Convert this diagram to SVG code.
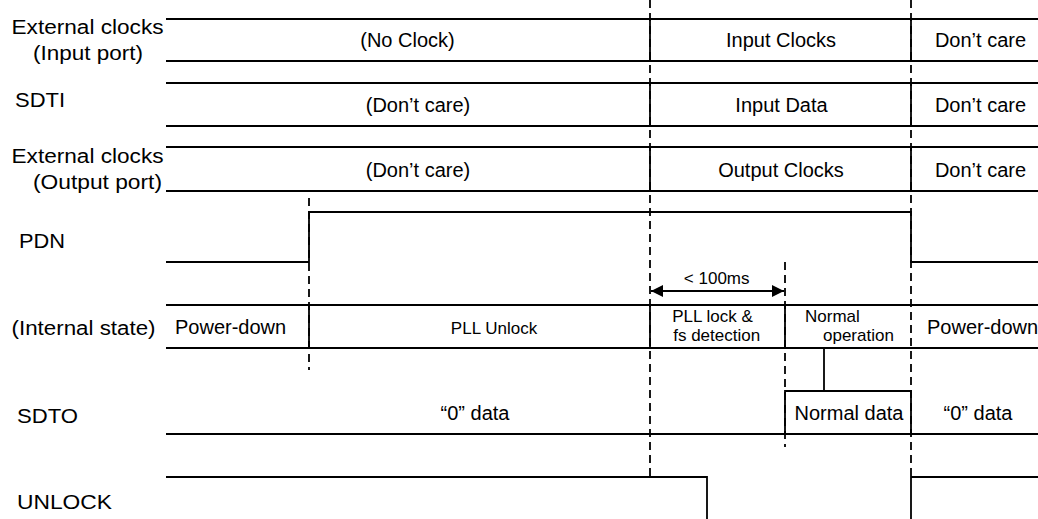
<svg xmlns="http://www.w3.org/2000/svg" width="1038" height="519" viewBox="0 0 1038 519">
<style>
  .ln{stroke:#000;stroke-width:1.8;fill:none}
  .dash{stroke:#000;stroke-width:1.8;fill:none;stroke-dasharray:8 5}
  text{font-family:"Liberation Sans",Arial,sans-serif;fill:#000}
  .lbl{font-size:20px}
  .t20{font-size:20px;text-anchor:middle}
  .t17{font-size:17px;text-anchor:middle}
  .s17{font-size:17px}
</style>
<defs>
  <marker id="ah" viewBox="0 0 12 12" refX="12" refY="6" markerWidth="12" markerHeight="12" markerUnits="userSpaceOnUse" orient="auto-start-reverse">
    <path d="M0,0 L12,6 L0,12 z" fill="#000"/>
  </marker>
</defs>
<rect width="1038" height="519" fill="#fff"/>

<g id="labels">
  <text class="lbl" x="11.5" y="34" textLength="152" lengthAdjust="spacingAndGlyphs">External clocks</text>
  <text class="lbl" x="33" y="60" textLength="110" lengthAdjust="spacingAndGlyphs">(Input port)</text>
  <text class="lbl" x="15" y="107" textLength="50" lengthAdjust="spacingAndGlyphs">SDTI</text>
  <text class="lbl" x="11.5" y="163" textLength="152" lengthAdjust="spacingAndGlyphs">External clocks</text>
  <text class="lbl" x="33" y="189" textLength="129" lengthAdjust="spacingAndGlyphs">(Output port)</text>
  <text class="lbl" x="19" y="248" textLength="46" lengthAdjust="spacingAndGlyphs">PDN</text>
  <text class="lbl" x="11.5" y="335" textLength="144" lengthAdjust="spacingAndGlyphs">(Internal state)</text>
  <text class="lbl" x="17" y="423" textLength="61" lengthAdjust="spacingAndGlyphs">SDTO</text>
  <text class="lbl" x="17" y="509" textLength="95" lengthAdjust="spacingAndGlyphs">UNLOCK</text>
</g>

<g id="connectors">
  <!-- dashed guide lines -->
  <line class="dash" x1="309" y1="198" x2="309" y2="370"/>
  <line class="dash" x1="650" y1="0" x2="650" y2="477"/>
  <line class="dash" x1="785" y1="262" x2="785" y2="447"/>
  <line class="dash" x1="911" y1="0" x2="911" y2="477"/>
  <!-- arrow -->
  <line class="ln" x1="651" y1="291" x2="784" y2="291" marker-start="url(#ah)" marker-end="url(#ah)"/>
</g>

<g id="row-input-clocks">
  <line class="ln" x1="166" y1="19" x2="1038" y2="19"/>
  <line class="ln" x1="166" y1="61" x2="1038" y2="61"/>
  <line class="ln" x1="650" y1="19" x2="650" y2="61"/>
  <line class="ln" x1="911" y1="19" x2="911" y2="61"/>
  <text class="t20" x="407.5" y="47">(No Clock)</text>
  <text class="t20" x="781" y="47">Input Clocks</text>
  <text class="t20" x="980.5" y="47">Don’t care</text>
</g>

<g id="row-sdti">
  <line class="ln" x1="166" y1="83" x2="1038" y2="83"/>
  <line class="ln" x1="166" y1="126" x2="1038" y2="126"/>
  <line class="ln" x1="650" y1="83" x2="650" y2="126"/>
  <line class="ln" x1="911" y1="83" x2="911" y2="126"/>
  <text class="t20" x="418" y="112">(Don’t care)</text>
  <text class="t20" x="781.5" y="112">Input Data</text>
  <text class="t20" x="980.5" y="112">Don’t care</text>
</g>

<g id="row-output-clocks">
  <line class="ln" x1="166" y1="147" x2="1038" y2="147"/>
  <line class="ln" x1="166" y1="191" x2="1038" y2="191" style="stroke-width:2.2"/>
  <line class="ln" x1="650" y1="147" x2="650" y2="191"/>
  <line class="ln" x1="911" y1="147" x2="911" y2="191"/>
  <text class="t20" x="418" y="176.5">(Don’t care)</text>
  <text class="t20" x="781" y="176.5">Output Clocks</text>
  <text class="t20" x="980.5" y="176.5">Don’t care</text>
</g>

<g id="row-pdn">
  <polyline class="ln" points="166,262 309,262 309,212 911,212 911,262 1038,262"/>
  <text class="t17" x="716.7" y="283.5">&lt; 100ms</text>
</g>

<g id="row-internal-state">
  <line class="ln" x1="166" y1="305" x2="1038" y2="305"/>
  <line class="ln" x1="166" y1="348" x2="1038" y2="348"/>
  <line class="ln" x1="309" y1="305" x2="309" y2="348"/>
  <line class="ln" x1="650" y1="305" x2="650" y2="348"/>
  <line class="ln" x1="785" y1="305" x2="785" y2="348"/>
  <text class="lbl" x="175" y="333.5">Power-down</text>
  <text class="t17" x="494" y="333.5">PLL Unlock</text>
  <text class="t17" x="712.5" y="322">PLL lock &amp;</text>
  <text class="t17" x="716.7" y="341">fs detection</text>
  <text class="s17" x="805" y="322">Normal</text>
  <text class="s17" x="823" y="341">operation</text>
  <text class="lbl" x="927" y="333.5">Power-down</text>
</g>

<g id="row-sdto">
  <line class="ln" x1="166" y1="434" x2="1038" y2="434"/>
  <polyline class="ln" points="785,434 785,391 911,391 911,434"/>
  <line class="ln" x1="824" y1="348" x2="824" y2="391"/>
  <text class="t20" x="475" y="420">“0” data</text>
  <text class="t20" x="849" y="420">Normal data</text>
  <text class="t20" x="978" y="420">“0” data</text>
</g>

<g id="row-unlock">
  <polyline class="ln" points="166,477 707,477 707,519"/>
  <polyline class="ln" points="911,519 911,477 1038,477"/>
</g>
</svg>
